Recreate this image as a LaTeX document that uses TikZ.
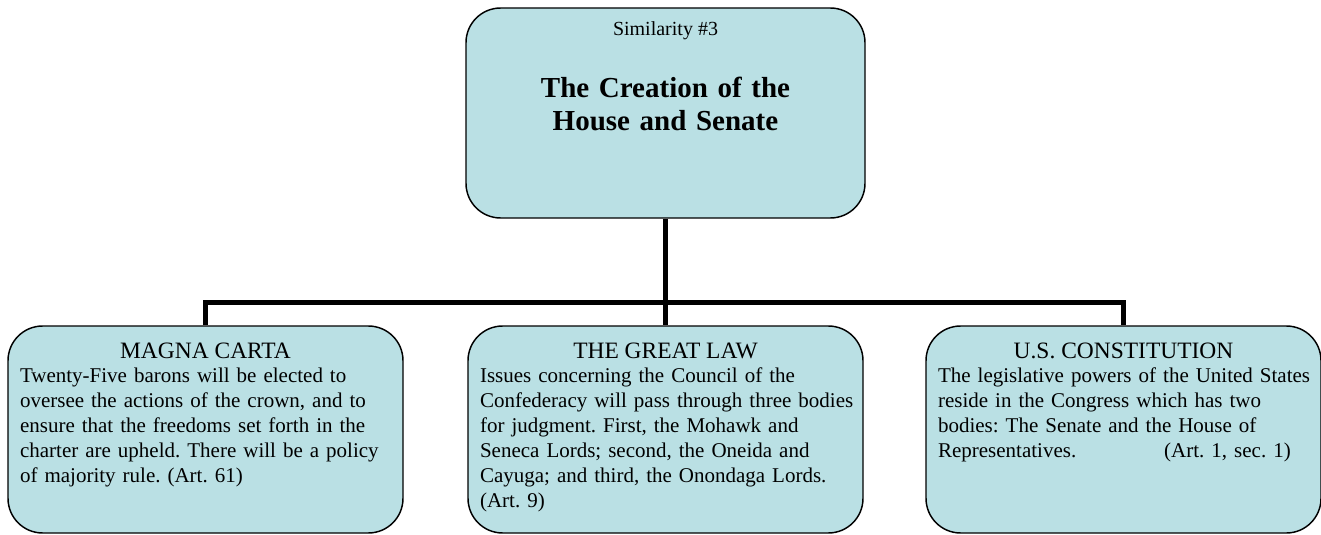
\documentclass[tikz,border=0pt]{standalone}
\usepackage{fontspec}
\setmainfont{Liberation Serif}
\usetikzlibrary{calc,positioning}
\definecolor{boxblue}{RGB}{186,224,228}
\newcommand{\HeadFont}{\fontsize{17.6}{18.75}\selectfont}
\frenchspacing

\begin{document}
\begin{tikzpicture}[x=0.75pt, y=-0.75pt]
    % 1. Styles for the boxes, the links and the texts
    \tikzstyle{Box} = [rectangle, draw, line width=1.1pt, fill=boxblue, rounded corners=26pt,
                       minimum width=296.25pt, minimum height=155.25pt, inner sep=0pt]
    \tikzstyle{Link} = [line width=3.75pt]
    \tikzstyle{Head} = [inner sep=0pt, anchor=base, font=\HeadFont]
    \tikzstyle{Body} = [inner sep=0pt, anchor=base west, text width=300pt, align=left,
                        font=\fontsize{15.75}{18.75}\selectfont]
    \useasboundingbox (0,0) rectangle (1321,535);

    % 2. Boxes
    \node[Box, minimum width=299.25pt, minimum height=157.5pt] (Top) at (665.5,113) {};
    \node[Box] (Magna) at (205.5,429.5) {};
    \node[Box] (Great) at (665.5,429.5) {};
    \node[Box] (Const) at (1123.5,429.5) {};

    % 3. Top box text
    \node[inner sep=0pt, anchor=base, font=\fontsize{15}{18}\selectfont] (TopTag) at (665.5,36) {Similarity \#3};
    \node[inner sep=0pt, anchor=base, text width=290pt, align=center,
          font=\bfseries\fontsize{21.75}{24.75}\selectfont] (TopTitle) at (665.5,98)
          {The Creation of the\\ House and Senate};

    % 4. Links (T-shaped tree)
    \coordinate (Hub) at (665.5,302);
    \draw[Link] (Top.south) -- (Hub);
    \draw[Link] (Magna.north) |- (Hub) -| (Const.north);
    \draw[Link] (Hub) -- (Great.north);

    % 5. Headings and texts of the three lower boxes
    \node[Head] (MagnaHead) at ($(Magna.north)+(0,33)$) {MAGNA CARTA};
    \node[Body] (MagnaText) at ($(Magna.north west)+(12.5,57.5)$)
        {Twenty-Five barons will be elected to\\
         oversee the actions of the crown, and to\\
         ensure that the freedoms set forth in the\\
         charter are upheld. There will be a policy\\
         of majority rule. (Art. 61)};

    \node[Head] (GreatHead) at ($(Great.north)+(0,33)$) {THE GREAT LAW};
    \node[Body] (GreatText) at ($(Great.north west)+(12.5,57.5)$)
        {Issues concerning the Council of the\\
         Confederacy will pass through three bodies\\
         for judgment. First, the Mohawk and\\
         Seneca Lords; second, the Oneida and\\
         Cayuga; and third, the Onondaga Lords.\\
         (Art. 9)};

    \node[Head] (ConstHead) at ($(Const.north)+(0,33)$) {U.S. CONSTITUTION};
    \node[Body] (ConstText) at ($(Const.north west)+(12.5,57.5)$)
        {The legislative powers of the United States\\
         reside in the Congress which has two\\
         bodies: The Senate and the House of\\
         Representatives.\hspace{66pt}(Art. 1, sec. 1)};

\end{tikzpicture}
\end{document}
